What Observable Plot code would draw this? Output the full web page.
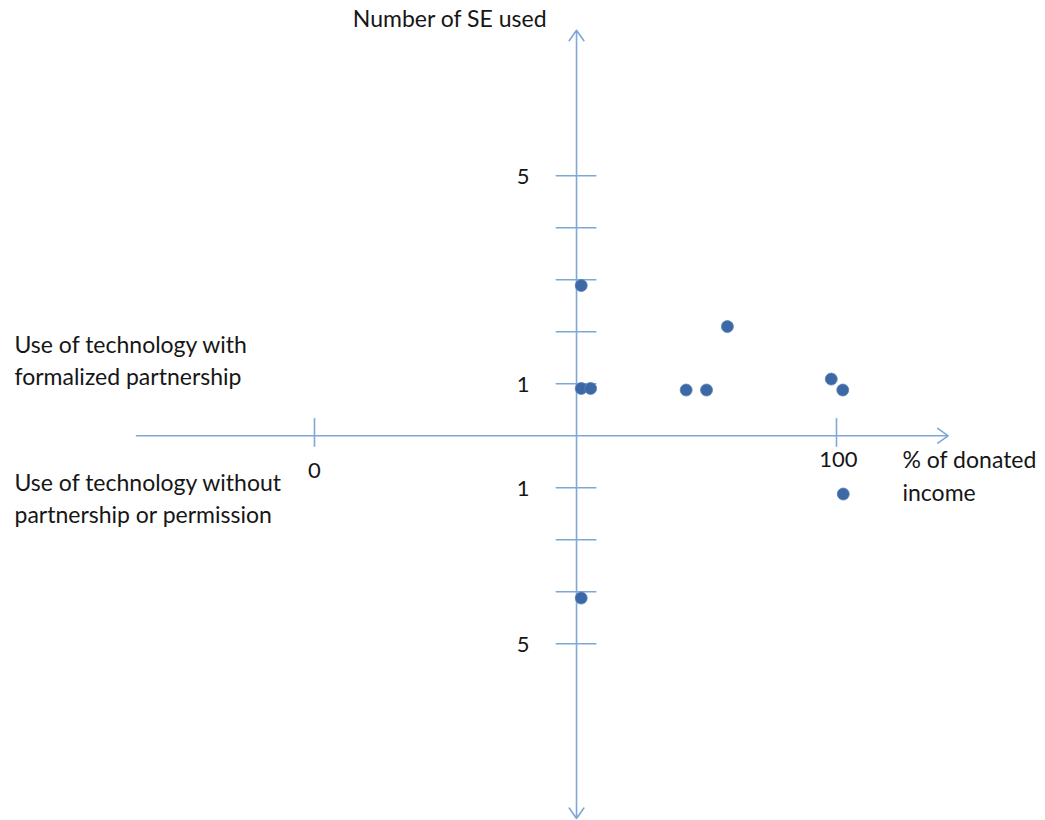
<!DOCTYPE html>
<html>
<head>
<meta charset="utf-8">
<script src="https://cdn.jsdelivr.net/npm/d3@7"></script>
<script src="https://cdn.jsdelivr.net/npm/@observablehq/plot@0.6"></script>
<style>
  html, body { margin: 0; padding: 0; background: #ffffff; }
  #chart svg { display: block; }
</style>
</head>
<body>
<div id="chart"></div>
<script>
// ---- data ----
const donatedIncome = [51.1, 51.1, 52.9, 79.1, 71.2, 75.1, 99.0, 101.2, 101.3, 51.1];
const seUsed        = [2.89, 0.91, 0.91, 2.10, 0.88, 0.88, 1.09, 0.88, -1.12, -3.12];
const upperTicks = [1, 2, 3, 4, 5];
const lowerTicks = [-1, -2, -3, -4];
const yTickLabels = [{v: 5, t: "5"}, {v: 1, t: "1"}, {v: -1, t: "1"}, {v: -4, t: "5"}];
const xTickValues = [0, 100];
const xTickLabels = ["0", "100"];
const verticalAxisAt = 50.2;
const xAxisExtent = [-34.1, 121.4];
const yAxisExtent = [7.8, -7.36];

const points = donatedIncome.map((x, i) => ({x, y: seUsed[i]}));

const axisColor = "#7fa7d7";
const dotColor = "#3c68a5";
const textColor = "#161616";
const font = "Lato, 'Open Sans', sans-serif";
const fs = 23;

const chart = Plot.plot({
  width: 1045,
  height: 820,
  margin: 0,
  x: {domain: [-60.15, 140.04], axis: null},
  y: {domain: [-7.398, 8.371], axis: null},
  marks: [
    // horizontal axis with arrow
    Plot.arrow([0], {x1: xAxisExtent[0], x2: xAxisExtent[1], y1: 0, y2: 0, stroke: axisColor, strokeWidth: 1.6, headLength: 12, headAngle: 70}),
    // vertical axis arrows (up and down)
    Plot.arrow([0], {x1: verticalAxisAt, x2: verticalAxisAt, y1: 0, y2: yAxisExtent[0], stroke: axisColor, strokeWidth: 1.6, headLength: 12, headAngle: 70}),
    Plot.arrow([0], {x1: verticalAxisAt, x2: verticalAxisAt, y1: 0, y2: yAxisExtent[1], stroke: axisColor, strokeWidth: 1.6, headLength: 12, headAngle: 70}),
    // ticks on vertical axis
    Plot.ruleY(upperTicks.concat(lowerTicks), {y: d => d, x1: verticalAxisAt - 3.9, x2: verticalAxisAt + 3.9, stroke: axisColor, strokeWidth: 1.6}),
    // ticks on horizontal axis
    Plot.ruleX(xTickValues, {x: d => d, y1: 0.33, y2: -0.22, stroke: axisColor, strokeWidth: 1.6}),
    // dots
    Plot.dot(points, {x: "x", y: "y", r: 6, fill: dotColor, stroke: "#5a82b8", strokeWidth: 0.8}),
    // y tick labels
    Plot.text(yTickLabels, {x: verticalAxisAt, y: "v", text: "t", textAnchor: "end", dx: -47, dy: 1, fontSize: fs - 1, fontFamily: font, fill: textColor}),
    // x tick labels
    Plot.text([0], {x: xTickValues[0], y: 0, text: [xTickLabels[0]], dy: 35, dx: 0, fontSize: fs - 1, fontFamily: font, fill: textColor}),
    Plot.text([0], {x: xTickValues[1], y: 0, text: [xTickLabels[1]], dy: 24, dx: 2, fontSize: fs - 1, fontFamily: font, fill: textColor}),
    // x axis title
    Plot.text([0], {x: xTickValues[1], y: 0, text: ["% of donated\nincome"], textAnchor: "start", lineAnchor: "top", dx: 66, dy: 9, lineHeight: 1.43, fontSize: fs, fontFamily: font, fill: textColor}),
    // y axis title
    Plot.text([0], {x: verticalAxisAt, frameAnchor: "top", text: ["Number of SE used"], textAnchor: "end", lineAnchor: "top", dx: -30, dy: 10, fontSize: fs, fontFamily: font, fill: textColor}),
    // quadrant labels
    Plot.text([0], {frameAnchor: "left", y: 0, text: ["Use of technology with\nformalized partnership"], textAnchor: "start", lineAnchor: "middle", dx: 14, dy: -77, lineHeight: 1.38, fontSize: fs, fontFamily: font, fill: textColor}),
    Plot.text([0], {frameAnchor: "left", y: 0, text: ["Use of technology without\npartnership or permission"], textAnchor: "start", lineAnchor: "middle", dx: 14, dy: 61, lineHeight: 1.38, fontSize: fs, fontFamily: font, fill: textColor})
  ]
});
document.getElementById("chart").appendChild(chart);
</script>
</body>
</html>
